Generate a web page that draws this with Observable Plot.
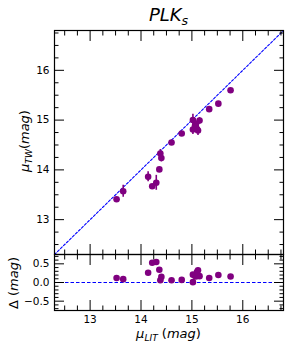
<!DOCTYPE html>
<html><head><meta charset="utf-8">
<script src="https://cdn.jsdelivr.net/npm/d3@7"></script>
<script src="https://cdn.jsdelivr.net/npm/@observablehq/plot@0.6"></script>
<style>
body{margin:0;background:#fff;}
#wrap{position:relative;width:291px;height:350px;font-family:"DejaVu Sans",sans-serif;}
#wrap svg{display:block;}
#overlay{position:absolute;left:0;top:0;pointer-events:none;}
</style></head><body><div id="wrap"></div>
<script>
// ---- data ----
const muLit = [13.52, 13.65, 14.14, 14.22, 14.30, 14.36, 14.38, 14.40, 14.60, 14.80, 15.02, 15.02, 15.06, 15.08, 15.10, 15.12, 15.15, 15.34, 15.52, 15.76];
const muTW  = [13.41, 13.57, 13.86, 13.67, 13.74, 14.01, 14.33, 14.24, 14.55, 14.73, 15.00, 14.81, 14.88, 14.92, 14.82, 14.79, 14.99, 15.22, 15.33, 15.60];
const errTW = [0, 0.12, 0.10, 0, 0.15, 0, 0.08, 0.08, 0, 0, 0.12, 0.10, 0.08, 0.06, 0.08, 0.10, 0.06, 0, 0, 0];
const delta = [0.12, 0.09, 0.26, 0.53, 0.55, 0.34, 0.06, 0.15, 0.06, 0.07, 0.01, 0.21, 0.18, 0.16, 0.28, 0.33, 0.17, 0.12, 0.20, 0.16];
const errDelta = [0, 0.07, 0.05, 0, 0.06, 0, 0.05, 0.05, 0, 0, 0.06, 0.05, 0.05, 0.04, 0.05, 0.05, 0.04, 0, 0, 0];
const xTicks = [13, 14, 15, 16];
const yTicksMain = [13, 14, 15, 16];
const yTicksRes = [-0.5, 0, 0.5];
const xDomain = [12.3, 16.8];
const yDomainMain = [12.3, 16.8];
const yDomainRes = [-0.75, 0.75];

const rows = muLit.map((x, i) => ({x, y: muTW[i], e: errTW[i], d: delta[i], ed: errDelta[i]}));
const xMinor = d3.range(12.5, 16.8, 0.25).filter(v => !xTicks.includes(v));
const yMinorMain = d3.range(12.5, 16.8, 0.25).filter(v => !yTicksMain.includes(v));
const yMinorRes = d3.range(-7, 8).map(v => v / 10).filter(v => Math.abs(v * 2 - Math.round(v * 2)) > 1e-9);

const PURPLE = "#800080";
const BLUE = "#0000ff";
const W = 291, ML = 54, MR = 8;
const MAJ = 10, MIN = 4.5;
const blank = () => "";

function tickMarks(kind, anchors, major, minor) {
  const f = kind === "x" ? Plot.axisX : Plot.axisY;
  const out = [];
  for (const a of anchors) {
    out.push(f(major, {anchor: a, tickSize: -MAJ, tickFormat: blank, label: null, strokeWidth: 1}));
    out.push(f(minor, {anchor: a, tickSize: -MIN, tickFormat: blank, label: null, strokeWidth: 1}));
  }
  return out;
}

const style = {fontFamily: "DejaVu Sans", fontSize: "10.5px", color: "#000", background: "#fff", overflow: "visible"};

const main = Plot.plot({
  width: W, height: 254,
  marginLeft: ML, marginRight: MR, marginTop: 30, marginBottom: 0,
  style,
  x: {domain: xDomain, axis: null},
  y: {domain: yDomainMain, axis: null},
  marks: [
    Plot.line(xDomain.map(v => ({x: v, y: v})), {x: "x", y: "y", stroke: BLUE, strokeWidth: 1.1, strokeDasharray: "2.4,1.8"}),
    Plot.ruleX(rows.filter(d => d.e > 0), {x: "x", y1: d => d.y - d.e, y2: d => d.y + d.e, stroke: PURPLE, strokeWidth: 1.6}),
    Plot.dot(rows, {x: "x", y: "y", r: 3.3, fill: PURPLE, stroke: "none"}),
    ...tickMarks("x", ["top", "bottom"], xTicks, xMinor),
    ...tickMarks("y", ["left", "right"], yTicksMain, yMinorMain),
    Plot.axisY(yTicksMain, {anchor: "left", tickSize: 0, tickPadding: 5, label: null, fontSize: 10.5, tickFormat: d3.format("d")}),
    Plot.frame({stroke: "#000", strokeWidth: 1.2})
  ]
});

const res = Plot.plot({
  width: W, height: 96,
  marginLeft: ML, marginRight: MR, marginTop: 0, marginBottom: 40,
  style,
  x: {domain: xDomain, axis: null},
  y: {domain: yDomainRes, axis: null},
  marks: [
    Plot.ruleY([0], {stroke: BLUE, strokeWidth: 1.2, strokeDasharray: "3.5,2"}),
    Plot.ruleX(rows.filter(d => d.ed > 0), {x: "x", y1: d => d.d - d.ed, y2: d => d.d + d.ed, stroke: PURPLE, strokeWidth: 1.6}),
    Plot.dot(rows, {x: "x", y: "d", r: 3.3, fill: PURPLE, stroke: "none"}),
    ...tickMarks("x", ["top", "bottom"], xTicks, xMinor),
    ...tickMarks("y", ["left", "right"], yTicksRes, yMinorRes),
    Plot.axisX(xTicks, {anchor: "bottom", tickSize: 0, tickPadding: 5, label: null, fontSize: 10.5}),
    Plot.axisY(yTicksRes, {anchor: "left", tickSize: 0, tickPadding: 5, label: null, fontSize: 10.5, tickFormat: d3.format(".1f")}),
    Plot.frame({stroke: "#000", strokeWidth: 1.2})
  ]
});

const wrap = document.getElementById("wrap");
wrap.appendChild(main);
wrap.appendChild(res);

// titles and axis labels as text with subscripts
const ov = d3.select(wrap).append("svg").attr("id", "overlay")
  .attr("width", W).attr("height", 350)
  .style("font-family", "DejaVu Sans");

const t = ov.append("text").attr("x", (ML + W - MR) / 2).attr("y", 21)
  .attr("text-anchor", "middle").attr("font-size", 18).attr("font-style", "italic");
t.append("tspan").text("PLK");
t.append("tspan").attr("font-size", 12.6).attr("dy", 4).text("s");

const yl = ov.append("text").attr("transform", "translate(29,141) rotate(-90)")
  .attr("text-anchor", "middle").attr("font-size", 13);
yl.append("tspan").attr("font-style", "italic").text("μ");
yl.append("tspan").attr("font-style", "italic").attr("font-size", 9.1).attr("dy", 3).text("TW");
yl.append("tspan").attr("dy", -3).text("(");
yl.append("tspan").attr("font-style", "italic").text("mag");
yl.append("tspan").text(")");

const dl = ov.append("text").attr("transform", "translate(18,283) rotate(-90)")
  .attr("text-anchor", "middle").attr("font-size", 13);
dl.append("tspan").text("Δ (");
dl.append("tspan").attr("font-style", "italic").text("mag");
dl.append("tspan").text(")");

const xl = ov.append("text").attr("x", (ML + W - MR) / 2).attr("y", 338)
  .attr("text-anchor", "middle").attr("font-size", 13);
xl.append("tspan").attr("font-style", "italic").text("μ");
xl.append("tspan").attr("font-style", "italic").attr("font-size", 9.1).attr("dy", 3).text("LIT");
xl.append("tspan").attr("dy", -3).text(" (");
xl.append("tspan").attr("font-style", "italic").text("mag");
xl.append("tspan").text(")");
</script></body></html>
